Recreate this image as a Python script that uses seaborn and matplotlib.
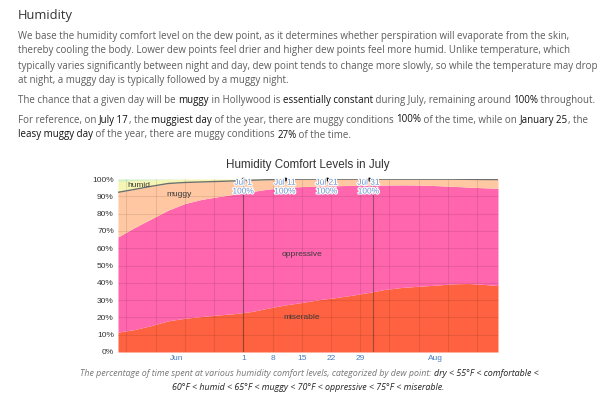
import numpy as np
import pandas as pd
import matplotlib
matplotlib.use("Agg")
import matplotlib.pyplot as plt
import matplotlib.patheffects as pe
import matplotlib.transforms as mtransforms
import seaborn as sns

# share of time (%) in each comfort band
dates = pd.to_datetime([
    "2023-06-01", "2023-06-05", "2023-06-09", "2023-06-13", "2023-06-17", "2023-06-21",
    "2023-06-25", "2023-06-29", "2023-07-03", "2023-07-07", "2023-07-11", "2023-07-15",
    "2023-07-19", "2023-07-23", "2023-07-27", "2023-07-31", "2023-08-04", "2023-08-08",
    "2023-08-12", "2023-08-16", "2023-08-20", "2023-08-24", "2023-08-28", "2023-08-31"])
miserable = [11.5, 13.0, 15.3, 18.0, 19.5, 20.5, 21.4, 22.2, 23.4, 25.4, 27.2, 28.6,
             30.2, 31.4, 32.8, 34.4, 36.2, 37.3, 38.0, 38.6, 39.4, 39.6, 39.0, 38.4]
oppressive = [55.0, 59.0, 61.7, 64.0, 66.3, 67.7, 68.4, 69.0, 69.3, 68.8, 67.8, 67.0,
              65.7, 64.7, 63.5, 62.0, 60.3, 59.3, 58.5, 57.6, 56.4, 55.7, 55.9, 56.2]
muggy = [25.8, 22.0, 18.8, 15.4, 12.2, 10.1, 8.8, 7.7, 6.6, 5.4, 4.8, 4.3,
         4.0, 3.8, 3.6, 3.5, 3.4, 3.3, 3.4, 3.7, 4.1, 4.5, 4.8, 5.1]
humid = [6.3, 5.0, 3.6, 2.3, 1.9, 1.7, 1.4, 1.1, 0.7, 0.4, 0.2, 0.1,
         0.1, 0.1, 0.1, 0.1, 0.1, 0.1, 0.1, 0.1, 0.1, 0.2, 0.3, 0.3]
comfortable = [1.4, 1.0, 0.6, 0.3, 0.1, 0, 0, 0, 0, 0, 0, 0,
               0, 0, 0, 0, 0, 0, 0, 0, 0, 0, 0, 0]

band_names = ["miserable", "oppressive", "muggy", "humid", "comfortable"]
band_colors = ["#ff6240", "#ff66ad", "#ffc8a2", "#f6f6b4", "#d2efc2"]

tick_dates = pd.to_datetime(["2023-06-15", "2023-07-01", "2023-07-08", "2023-07-15",
                             "2023-07-22", "2023-07-29", "2023-08-16"])
tick_labels = ["Jun", "1", "8", "15", "22", "29", "Aug"]

note_dates = pd.to_datetime(["2023-07-01", "2023-07-11", "2023-07-21", "2023-07-31"])
note_labels = ["Jul 1", "Jul 11", "Jul 21", "Jul 31"]
note_values = [100, 100, 100, 100]

W, H = 600, 396
sns.set_theme(style="white")
plt.rcParams["font.family"] = ["Liberation Sans", "DejaVu Sans"]

fig = plt.figure(figsize=(W / 100, H / 100), dpi=100)
fig.patch.set_facecolor("white")
ax = fig.add_axes([118 / W, 1 - 352 / H, 380 / W, 173 / H])

stack = np.cumsum(np.array([miserable, oppressive, muggy, humid, comfortable]), axis=0)
lower = np.zeros(len(dates))
for name, col, upper in zip(band_names, band_colors, stack):
    ax.fill_between(dates, lower, upper, color=col, lw=0, zorder=1)
    lower = upper

# chance of a muggy day line
df = pd.DataFrame({"date": dates, "muggy_chance": stack[2]})
sns.lineplot(data=df, x="date", y="muggy_chance", color="#6f6f6f", lw=1, ax=ax, zorder=4)

# grid
for d in pd.date_range("2023-06-03", "2023-08-26", freq="7D"):
    ax.axvline(d, color="black", alpha=0.09, lw=0.8, zorder=3)
for d in pd.to_datetime(["2023-07-01", "2023-08-01"]):
    ax.axvline(d, color="#2a2a2a", alpha=0.45, lw=0.8, zorder=3)
for v in range(10, 100, 10):
    ax.axhline(v, color="black", alpha=0.09, lw=0.8, zorder=3)

ax.set_xlim(dates[0], dates[-1])
ax.set_ylim(0, 100)
ax.set_yticks(range(0, 101, 10))
ax.set_yticklabels([f"{v}%" for v in range(0, 101, 10)])
ax.set_xticks(tick_dates)
ax.set_xticklabels(tick_labels)
ax.tick_params(axis="y", length=0, pad=3, labelsize=6, labelcolor="#333333")
ax.tick_params(axis="x", length=0, pad=2.5, labelsize=6, labelcolor="#4a7dbf")
ax.set_xlabel("")
ax.set_ylabel("")
for s in ax.spines.values():
    s.set_visible(False)

# band labels
label_pos = {
    "humid": ("2023-06-06", 96.5),
    "muggy": ("2023-06-15 14:00", 91.3),
    "oppressive": ("2023-07-15", 56.6),
    "miserable": ("2023-07-15", 19.8),
}
for name, (d, v) in label_pos.items():
    ax.text(pd.Timestamp(d), v, name, fontsize=6, color="#3a3a3a", ha="center",
            va="center", zorder=5)

# callouts
halo = [pe.withStroke(linewidth=1.6, foreground="white")]
for d, lab, v in zip(note_dates, note_labels, note_values):
    ax.scatter([d], [v], s=3, color="black", zorder=6, clip_on=False)
    ax.text(d, 97.6, lab, fontsize=6, color="#6a93cf", ha="center", va="center",
            path_effects=halo, zorder=6)
    ax.text(d, 92.5, f"{v}%", fontsize=6, color="#6a93cf", ha="center", va="center",
            path_effects=halo, zorder=6)

fig.text(308 / W, 1 - 165 / H, "Humidity Comfort Levels in July", fontsize=8.4,
         color="#333333", ha="center", va="center")

# page text drawn in pixel coordinates
ident = mtransforms.IdentityTransform()
renderer = fig.canvas.get_renderer()


def draw_runs(x, y, runs, size, align="left", italic=False,
              soft="#5c5c5c", strong="#111111"):
    items = []
    for txt, bold in runs:
        t = fig.text(0, H - y, txt, transform=ident, fontsize=size,
                     family=["Open Sans", "DejaVu Sans"],
                     style="italic" if italic else "normal",
                     color=strong if bold else soft, va="baseline", ha="left")
        items.append(t)
    widths = [t.get_window_extent(renderer).width for t in items]
    start = x - sum(widths) / 2 if align == "center" else x
    for t, w in zip(items, widths):
        t.set_x(start)
        start += w


fig.text(18, H - 15, "Humidity", transform=ident, fontsize=9.3,
         family=["Open Sans", "DejaVu Sans"], color="#333333", va="center")

para1 = [
    "We base the humidity comfort level on the dew point, as it determines whether perspiration will evaporate from the skin,",
    "thereby cooling the body. Lower dew points feel drier and higher dew points feel more humid. Unlike temperature, which",
    "typically varies significantly between night and day, dew point tends to change more slowly, so while the temperature may drop",
    "at night, a muggy day is typically followed by a muggy night.",
]
base = 3.0  # baseline sits below the line's visual centre
for i, line in enumerate(para1):
    draw_runs(18, 35.5 + 15 * i + base, [(line, False)], 7)

draw_runs(18, 100 + base, [("The chance that a given day will be ", False), ("muggy", True),
                           (" in Hollywood is ", False), ("essentially constant", True),
                           (" during July, remaining around ", False), ("100%", True),
                           (" throughout.", False)], 7)
draw_runs(18, 119.5 + base, [("For reference, on ", False), ("July 17", True), (", the ", False),
                             ("muggiest day", True),
                             (" of the year, there are muggy conditions ", False),
                             ("100%", True), (" of the time, while on ", False),
                             ("January 25", True), (", the", False)], 7)
draw_runs(18, 134.5 + base, [("leasy muggy day", True),
                             (" of the year, there are muggy conditions ", False),
                             ("27%", True), (" of the time.", False)], 7)

draw_runs(309, 375.5, [("The percentage of time spent at various humidity comfort levels, "
                        "categorized by dew point: ", False),
                       ("dry < 55°F < comfortable <", True)], 6.4, align="center",
          italic=True, soft="#777777", strong="#222222")
draw_runs(308, 389.5, [("60°F < humid < 65°F < muggy < 70°F < oppressive < 75°F < miserable.",
                        True)], 6.4, align="center", italic=True, soft="#777777",
          strong="#222222")

fig.savefig("out.png", dpi=100, facecolor="white")
